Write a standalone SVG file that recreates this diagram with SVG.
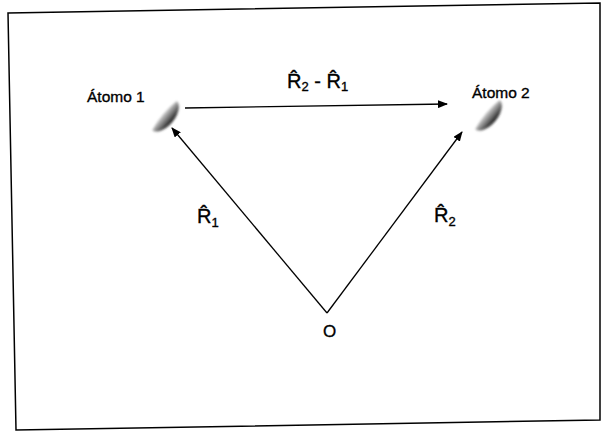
<svg xmlns="http://www.w3.org/2000/svg" width="601" height="433" viewBox="0 0 601 433">
<style>
text{font-family:"Liberation Sans",Arial,sans-serif;fill:#000;stroke:#000;stroke-width:0.35}
.lbl{font-size:15.5px}
.r{font-size:20px}
.sub{font-size:13px}
.conn{stroke:#000;stroke-width:1.3;fill:none;marker-end:url(#ah)}
.blob{fill:url(#blob);filter:url(#soft)}
</style>
<defs>
<marker id="ah" viewBox="0 0 10 8" refX="9" refY="4" markerWidth="10" markerHeight="8" markerUnits="userSpaceOnUse" orient="auto">
<path d="M0,0 L10,4 L0,8 Z" fill="#000"/>
</marker>
<linearGradient id="blob" x1="0" y1="0" x2="0" y2="1">
<stop offset="0" stop-color="#d0d0d0"/>
<stop offset="0.45" stop-color="#808080"/>
<stop offset="1" stop-color="#151515"/>
</linearGradient>
<filter id="soft" x="-30%" y="-30%" width="160%" height="160%">
<feGaussianBlur stdDeviation="0.8"/>
</filter>
</defs>
<polygon points="8,13 600,3 600,420 16,430" fill="#fff" stroke="#000" stroke-width="1.5"/>
<g id="connectors">
<line class="conn" x1="185" y1="108" x2="447" y2="104"/>
<line class="conn" x1="327" y1="313" x2="172" y2="128"/>
<line class="conn" x1="327" y1="313" x2="462" y2="132"/>
</g>
<g id="atomo1">
<text class="lbl" x="87" y="102">Átomo 1</text>
<path class="blob" transform="translate(166,117) rotate(-50)" d="M-19,-2 Q0,-6 19,-2 A19,10 0 0 1 -19,-2 Z"/>
</g>
<g id="atomo2">
<text class="lbl" x="472" y="98">Átomo 2</text>
<path class="blob" transform="translate(489,116) rotate(-50)" d="M-19,-2 Q0,-6 19,-2 A19,10 0 0 1 -19,-2 Z"/>
</g>
<g id="origem">
<text x="323" y="337" style="font-size:17px">O</text>
</g>
<g id="label-diff">
<text x="287" y="88"><tspan class="r">R̂</tspan><tspan class="sub" dy="3">2</tspan><tspan class="r" dy="-3"> - R̂</tspan><tspan class="sub" dy="3">1</tspan></text>
</g>
<g id="label-r1">
<text x="197" y="223"><tspan class="r">R̂</tspan><tspan class="sub" dy="4">1</tspan></text>
</g>
<g id="label-r2">
<text x="434" y="222"><tspan class="r">R̂</tspan><tspan class="sub" dy="4">2</tspan></text>
</g>
</svg>
